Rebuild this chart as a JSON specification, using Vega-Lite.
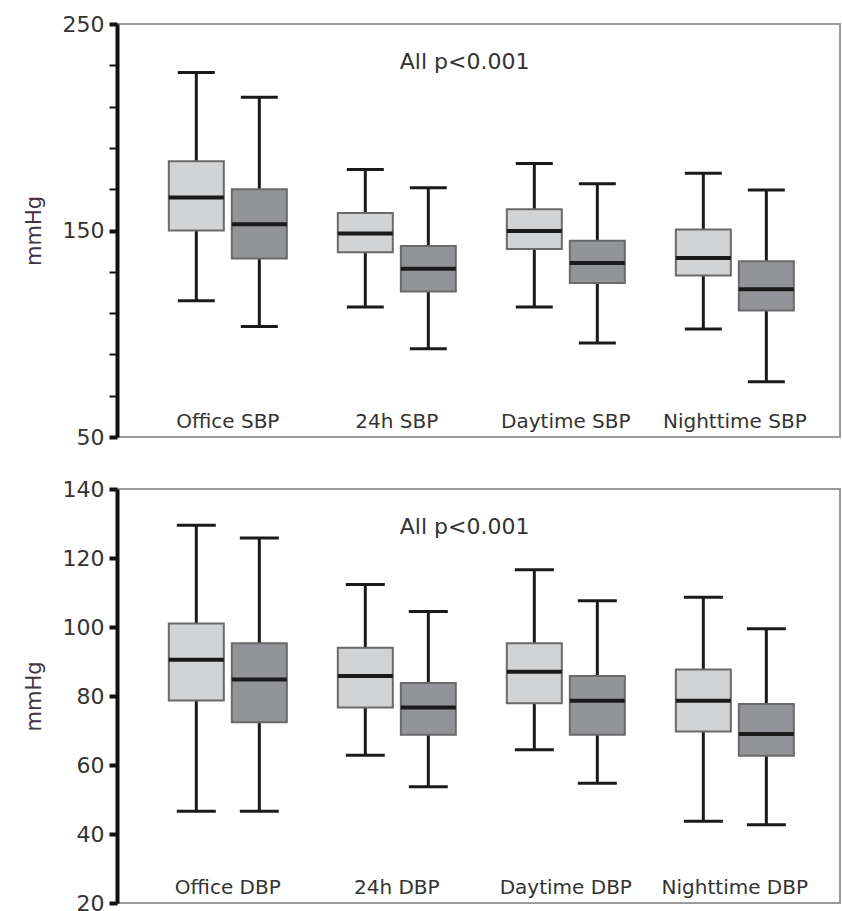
{
  "$schema": "https://vega.github.io/schema/vega-lite/v6.json",
  "padding": {"left": 22, "top": 12, "right": 1, "bottom": 0},
  "bounds": "flush",
  "spacing": 52,
  "background": "white",
  "config": {
    "view": {"stroke": "#9a9a9a", "strokeWidth": 2},
    "axis": {"grid": false},
    "tick": {"opacity": 1},
    "font": "DejaVu Sans"
  },
  "datasets": {
    "sbp": [
      {"group": "Office SBP", "series": "A", "min": 116, "q1": 150, "median": 166, "q3": 183.5, "max": 226.5},
      {"group": "Office SBP", "series": "B", "min": 103.5, "q1": 136.5, "median": 153, "q3": 170, "max": 214.5},
      {"group": "24h SBP", "series": "A", "min": 113, "q1": 139.5, "median": 148.5, "q3": 158.5, "max": 179.5},
      {"group": "24h SBP", "series": "B", "min": 92.7, "q1": 120.5, "median": 131.5, "q3": 142.5, "max": 170.7},
      {"group": "Daytime SBP", "series": "A", "min": 113, "q1": 141, "median": 149.7, "q3": 160.3, "max": 182.5},
      {"group": "Daytime SBP", "series": "B", "min": 95.5, "q1": 124.6, "median": 134.3, "q3": 145, "max": 172.6},
      {"group": "Nighttime SBP", "series": "A", "min": 102.3, "q1": 128.2, "median": 136.7, "q3": 150.5, "max": 177.7},
      {"group": "Nighttime SBP", "series": "B", "min": 76.8, "q1": 111.3, "median": 121.5, "q3": 135.1, "max": 169.6}
    ],
    "dbp": [
      {"group": "Office DBP", "series": "A", "min": 46.6, "q1": 78.7, "median": 90.5, "q3": 101, "max": 129.5},
      {"group": "Office DBP", "series": "B", "min": 46.6, "q1": 72.4, "median": 84.8, "q3": 95.3, "max": 125.8},
      {"group": "24h DBP", "series": "A", "min": 62.8, "q1": 76.7, "median": 85.8, "q3": 94, "max": 112.3},
      {"group": "24h DBP", "series": "B", "min": 53.7, "q1": 68.8, "median": 76.7, "q3": 83.8, "max": 104.5},
      {"group": "Daytime DBP", "series": "A", "min": 64.4, "q1": 77.9, "median": 87, "q3": 95.3, "max": 116.6},
      {"group": "Daytime DBP", "series": "B", "min": 54.7, "q1": 68.8, "median": 78.6, "q3": 85.8, "max": 107.6},
      {"group": "Nighttime DBP", "series": "A", "min": 43.7, "q1": 69.7, "median": 78.6, "q3": 87.7, "max": 108.6},
      {"group": "Nighttime DBP", "series": "B", "min": 42.7, "q1": 62.7, "median": 69, "q3": 77.7, "max": 99.5}
    ],
    "notes_top": [{"group": "24h SBP", "label": "All p<0.001", "y": 231.5}],
    "notes_bottom": [{"group": "24h DBP", "label": "All p<0.001", "y": 129}]
  },
  "vconcat": [
    {
      "width": 723,
      "height": 413,
      "encoding": {
        "x": {
          "field": "group", "type": "nominal", "sort": null,
          "scale": {"paddingInner": 0, "paddingOuter": 0.139, "align": 0.56},
          "axis": {"title": null, "domain": false, "ticks": false, "labelAngle": 0, "labelPadding": -26, "labelFontSize": 20, "labelColor": "#333333", "labelOverlap": false, "labelFont": "DejaVu Sans"}
        }
      },
      "layer": [
        {
          "data": {"name": "sbp"},
          "encoding": {
            "xOffset": {"field": "series", "type": "nominal", "scale": {"paddingInner": 0, "paddingOuter": 0.341}},
            "y": {
              "type": "quantitative",
              "scale": {"domain": [50, 250], "nice": false, "zero": false},
              "axis": {
                "title": "mmHg", "titleFont": "DejaVu Sans", "titleFontSize": 21, "titleFontWeight": "normal", "titleColor": "#443344", "titlePadding": 18,
                "values": [50, 60, 70, 80, 90, 100, 110, 120, 130, 140, 150, 160, 170, 180, 190, 200, 210, 220, 230, 240, 250],
                "labelExpr": "datum.value % 50 === 0 ? datum.label : ''",
                "labelFontSize": 22, "labelColor": "#333333", "labelPadding": 5, "labelFont": "DejaVu Sans",
                "tickSize": 8, "tickColor": "#111111",
                "tickWidth": {"condition": {"test": "datum.value % 50 === 0", "value": 4}, "value": 2},
                "domainColor": "#111111", "domainWidth": 4
              }
            }
          },
          "layer": [
            {"mark": {"type": "rule", "color": "#1a1a1a", "strokeWidth": 3}, "encoding": {"y": {"field": "min"}, "y2": {"field": "max"}}},
            {"mark": {"type": "tick", "color": "#1a1a1a", "thickness": 3, "size": 37}, "encoding": {"y": {"field": "min"}}},
            {"mark": {"type": "tick", "color": "#1a1a1a", "thickness": 3, "size": 37}, "encoding": {"y": {"field": "max"}}},
            {
              "mark": {"type": "bar", "stroke": "#6a6a6a", "strokeWidth": 2, "width": 55},
              "encoding": {
                "y": {"field": "q1"}, "y2": {"field": "q3"},
                "fill": {"field": "series", "type": "nominal", "scale": {"domain": ["A", "B"], "range": ["#d2d3d5", "#939497"]}, "legend": null}
              }
            },
            {"mark": {"type": "tick", "color": "#1a1a1a", "thickness": 4, "size": 55}, "encoding": {"y": {"field": "median"}}}
          ]
        },
        {
          "data": {"name": "notes_top"},
          "mark": {"type": "text", "align": "left", "dx": 3, "fontSize": 22, "font": "DejaVu Sans", "color": "#333333"},
          "encoding": {
            "y": {"field": "y", "type": "quantitative"},
            "text": {"field": "label"}
          }
        }
      ]
    },
    {
      "width": 723,
      "height": 414,
      "encoding": {
        "x": {
          "field": "group", "type": "nominal", "sort": null,
          "scale": {"paddingInner": 0, "paddingOuter": 0.139, "align": 0.56},
          "axis": {"title": null, "domain": false, "ticks": false, "labelAngle": 0, "labelPadding": -26, "labelFontSize": 20, "labelColor": "#333333", "labelOverlap": false, "labelFont": "DejaVu Sans"}
        }
      },
      "layer": [
        {
          "data": {"name": "dbp"},
          "encoding": {
            "xOffset": {"field": "series", "type": "nominal", "scale": {"paddingInner": 0, "paddingOuter": 0.341}},
            "y": {
              "type": "quantitative",
              "scale": {"domain": [20, 140], "nice": false, "zero": false},
              "axis": {
                "title": "mmHg", "titleFont": "DejaVu Sans", "titleFontSize": 21, "titleFontWeight": "normal", "titleColor": "#443344", "titlePadding": 18,
                "values": [20, 30, 40, 50, 60, 70, 80, 90, 100, 110, 120, 130, 140],
                "labelExpr": "datum.value % 20 === 0 ? datum.label : ''",
                "labelFontSize": 22, "labelColor": "#333333", "labelPadding": 5, "labelFont": "DejaVu Sans",
                "tickSize": 8, "tickColor": "#111111",
                "tickWidth": {"condition": {"test": "datum.value % 20 === 0", "value": 4}, "value": 2},
                "domainColor": "#111111", "domainWidth": 4
              }
            }
          },
          "layer": [
            {"mark": {"type": "rule", "color": "#1a1a1a", "strokeWidth": 3}, "encoding": {"y": {"field": "min"}, "y2": {"field": "max"}}},
            {"mark": {"type": "tick", "color": "#1a1a1a", "thickness": 3, "size": 39}, "encoding": {"y": {"field": "min"}}},
            {"mark": {"type": "tick", "color": "#1a1a1a", "thickness": 3, "size": 39}, "encoding": {"y": {"field": "max"}}},
            {
              "mark": {"type": "bar", "stroke": "#6a6a6a", "strokeWidth": 2, "width": 55},
              "encoding": {
                "y": {"field": "q1"}, "y2": {"field": "q3"},
                "fill": {"field": "series", "type": "nominal", "scale": {"domain": ["A", "B"], "range": ["#d2d3d5", "#939497"]}, "legend": null}
              }
            },
            {"mark": {"type": "tick", "color": "#1a1a1a", "thickness": 4, "size": 55}, "encoding": {"y": {"field": "median"}}}
          ]
        },
        {
          "data": {"name": "notes_bottom"},
          "mark": {"type": "text", "align": "left", "dx": 3, "fontSize": 22, "font": "DejaVu Sans", "color": "#333333"},
          "encoding": {
            "y": {"field": "y", "type": "quantitative"},
            "text": {"field": "label"}
          }
        }
      ]
    }
  ]
}
